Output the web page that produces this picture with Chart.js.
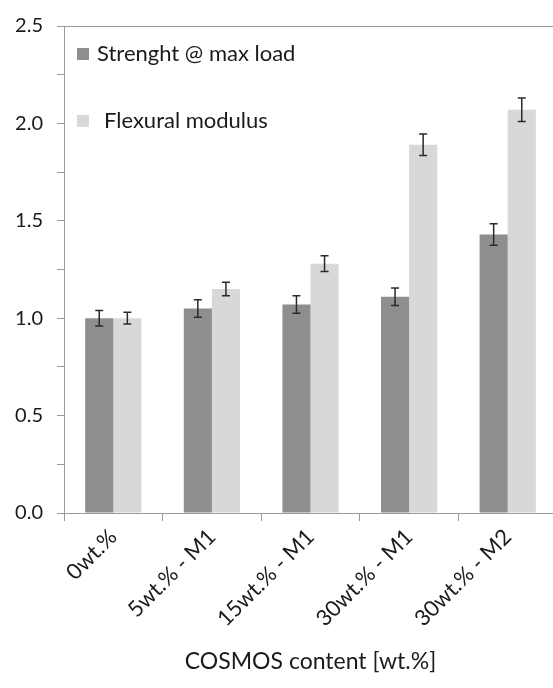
<!DOCTYPE html>
<html>
<head>
<meta charset="utf-8">
<script src="https://cdn.jsdelivr.net/npm/chart.js@4"></script>
<style>
  html, body { margin: 0; padding: 0; background: #fff; overflow: hidden; }
  #wrap { width: 560px; height: 688px; }
</style>
</head>
<body>
<div id="wrap"><canvas id="barChart" width="560" height="688"></canvas></div>
<script>
const categories = ["0wt.%", "5wt.% - M1", "15wt.% - M1", "30wt.% - M1", "30wt.% - M2"];
const strength = [1.00, 1.05, 1.07, 1.11, 1.43];
const strengthErr = [0.04, 0.045, 0.045, 0.045, 0.055];
const modulus = [1.00, 1.15, 1.28, 1.89, 2.07];
const modulusErr = [0.03, 0.035, 0.04, 0.055, 0.06];
const yTicks = [0, 0.5, 1.0, 1.5, 2.0, 2.5];

const darkGrey = "#8e8e8e";
const lightGrey = "#d8d8d8";
const axisGrey = "#9a9a9a";
const fontFamily = "Lato, 'Open Sans', sans-serif";

// error bars drawn from the same scales as the bars
const errorBars = {
  id: "errorBars",
  afterDatasetsDraw(chart) {
    const ctx = chart.ctx;
    const y = chart.scales.y;
    ctx.save();
    ctx.strokeStyle = "#2a2a2a";
    ctx.lineWidth = 1.5;
    chart.data.datasets.forEach((ds, i) => {
      const meta = chart.getDatasetMeta(i);
      meta.data.forEach((bar, j) => {
        const v = ds.data[j], e = ds.errors[j];
        const top = y.getPixelForValue(v + e);
        const bot = y.getPixelForValue(v - e);
        ctx.beginPath();
        ctx.moveTo(bar.x, top); ctx.lineTo(bar.x, bot);
        ctx.moveTo(bar.x - 4, top); ctx.lineTo(bar.x + 4, top);
        ctx.moveTo(bar.x - 4, bot); ctx.lineTo(bar.x + 4, bot);
        ctx.stroke();
      });
    });
    ctx.restore();
  }
};

// legend inside the plot, top left, plus the top border line
const insideLegend = {
  id: "insideLegend",
  afterDraw(chart) {
    const ctx = chart.ctx;
    const a = chart.chartArea;
    ctx.save();
    ctx.strokeStyle = axisGrey;
    ctx.lineWidth = 1;
    ctx.beginPath();
    ctx.moveTo(a.left, a.top + 0.5);
    ctx.lineTo(a.right, a.top + 0.5);
    ctx.stroke();

    ctx.font = "22px " + fontFamily;
    ctx.textBaseline = "middle";
    const items = [
      { color: darkGrey, y: a.top + 28, tx: a.left + 33 },
      { color: lightGrey, y: a.top + 95, tx: a.left + 40 }
    ];
    chart.data.datasets.forEach((ds, i) => {
      const it = items[i];
      ctx.fillStyle = it.color;
      ctx.fillRect(a.left + 13, it.y - 6, 12, 12);
      ctx.fillStyle = "#1a1a1a";
      ctx.fillText(ds.label, it.tx, it.y);
    });
    ctx.restore();
  }
};

new Chart(document.getElementById("barChart"), {
  type: "bar",
  data: {
    labels: categories,
    datasets: [
      {
        label: "Strenght @ max load",
        data: strength,
        errors: strengthErr,
        backgroundColor: darkGrey,
        categoryPercentage: 0.57,
        barPercentage: 1.0
      },
      {
        label: "Flexural modulus",
        data: modulus,
        errors: modulusErr,
        backgroundColor: lightGrey,
        categoryPercentage: 0.57,
        barPercentage: 1.0
      }
    ]
  },
  options: {
    responsive: false,
    animation: false,
    layout: { padding: { top: 23, right: 3, left: 0, bottom: 0 } },
    plugins: {
      legend: { display: false },
      tooltip: { enabled: false }
    },
    scales: {
      x: {
        offset: true,
        grid: { drawOnChartArea: false, tickLength: 8, color: axisGrey },
        border: { color: axisGrey, width: 1 },
        ticks: {
          color: "#1a1a1a",
          font: { family: fontFamily, size: 22 },
          maxRotation: 45,
          minRotation: 45,
          padding: 3
        },
        title: {
          display: true,
          text: "COSMOS content [wt.%]",
          color: "#1a1a1a",
          font: { family: fontFamily, size: 23 },
          padding: { top: 0, bottom: 13 }
        },
        afterFit(scale) { scale.height = 175; }
      },
      y: {
        min: 0,
        max: 2.5,
        grid: { drawOnChartArea: false, tickLength: 7, color: axisGrey },
        border: { color: axisGrey, width: 1 },
        ticks: {
          stepSize: 0.25,
          color: "#1a1a1a",
          font: { family: fontFamily, size: 20 },
          padding: 14,
          callback(value) {
            const hit = yTicks.find(t => Math.abs(t - value) < 1e-6);
            return hit === undefined ? "" : hit.toFixed(1);
          }
        },
        afterFit(scale) { scale.width = 64; }
      }
    }
  },
  plugins: [errorBars, insideLegend]
});
</script>
</body>
</html>
